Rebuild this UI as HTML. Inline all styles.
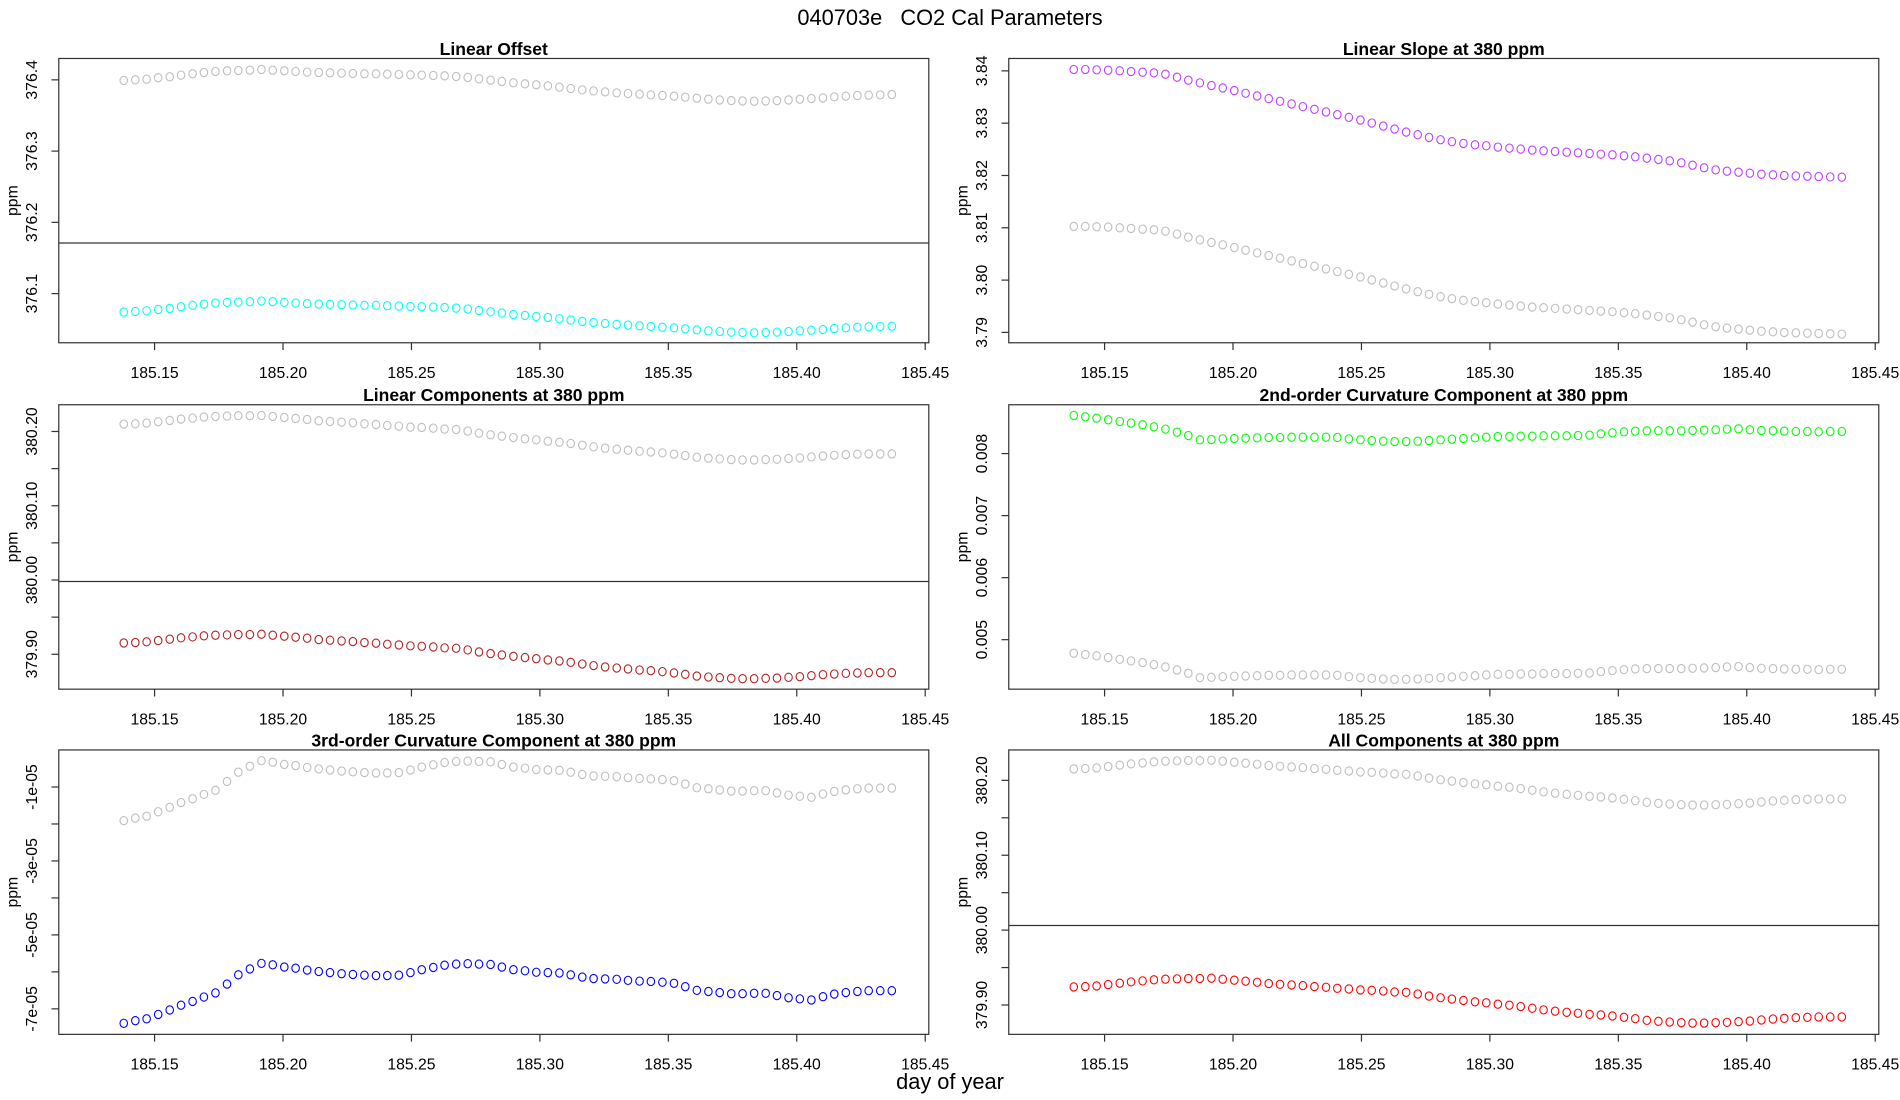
<!DOCTYPE html>
<html><head><meta charset="utf-8">
<style>
html,body{margin:0;padding:0;background:#fff;}
svg{display:block;}
text{font-family:"Liberation Sans",sans-serif;fill:#000;}
</style></head>
<body>
<svg id="chart" width="1900" height="1100" viewBox="0 0 1568 905" preserveAspectRatio="none" xmlns="http://www.w3.org/2000/svg">
<rect x="0" y="0" width="1568" height="905" fill="#fff"/>
<text x="784" y="20.5" font-size="18" text-anchor="middle" style="white-space:pre">040703e   CO2 Cal Parameters</text>
<text x="784" y="896" font-size="18" text-anchor="middle">day of year</text>
</svg>
<script>
const dayOfYear = [185.1380,185.1425,185.1469,185.1514,185.1559,185.1603,185.1648,185.1692,185.1737,185.1782,185.1826,185.1871,185.1916,185.1960,185.2005,185.2049,185.2094,185.2139,185.2183,185.2228,185.2272,185.2317,185.2362,185.2406,185.2451,185.2496,185.2540,185.2585,185.2629,185.2674,185.2719,185.2763,185.2808,185.2852,185.2897,185.2942,185.2986,185.3031,185.3076,185.3120,185.3165,185.3209,185.3254,185.3299,185.3343,185.3388,185.3432,185.3477,185.3522,185.3566,185.3611,185.3656,185.3700,185.3745,185.3789,185.3834,185.3879,185.3923,185.3968,185.4012,185.4057,185.4102,185.4146,185.4191,185.4236,185.4280,185.4325,185.4370];
const xTicks = [185.15,185.20,185.25,185.30,185.35,185.40,185.45];
const xTickLabels = ["185.15","185.20","185.25","185.30","185.35","185.40","185.45"];

const offsetGray = [376.3991,376.4000,376.4009,376.4028,376.4042,376.4066,376.4085,376.4103,376.4117,376.4127,376.4131,376.4136,376.4146,376.4136,376.4127,376.4117,376.4108,376.4103,376.4099,376.4094,376.4089,376.4085,376.4085,376.4080,376.4075,376.4070,376.4066,376.4061,376.4056,376.4047,376.4033,376.4014,376.3995,376.3977,376.3958,376.3944,376.3930,376.3915,376.3897,376.3878,376.3859,376.3845,376.3831,376.3817,376.3808,376.3798,376.3789,376.3779,376.3770,376.3756,376.3742,376.3728,376.3718,376.3709,376.3704,376.3700,376.3704,376.3709,376.3718,376.3728,376.3737,376.3746,376.3761,376.3770,376.3779,376.3784,376.3789,376.3793];
const offsetCur = [376.0741,376.0750,376.0759,376.0778,376.0792,376.0816,376.0835,376.0853,376.0867,376.0877,376.0881,376.0886,376.0896,376.0886,376.0877,376.0867,376.0858,376.0853,376.0849,376.0844,376.0839,376.0835,376.0835,376.0830,376.0825,376.0820,376.0816,376.0811,376.0806,376.0797,376.0783,376.0764,376.0745,376.0727,376.0708,376.0694,376.0680,376.0665,376.0647,376.0628,376.0609,376.0595,376.0581,376.0567,376.0558,376.0548,376.0539,376.0529,376.0520,376.0506,376.0492,376.0478,376.0468,376.0459,376.0454,376.0450,376.0454,376.0459,376.0468,376.0478,376.0487,376.0496,376.0511,376.0520,376.0529,376.0534,376.0539,376.0543];

const slopeCur = [3.84026,3.84026,3.84019,3.84013,3.84000,3.83987,3.83974,3.83962,3.83936,3.83879,3.83821,3.83770,3.83719,3.83674,3.83623,3.83572,3.83520,3.83469,3.83418,3.83367,3.83316,3.83265,3.83214,3.83162,3.83111,3.83060,3.83003,3.82945,3.82887,3.82830,3.82779,3.82728,3.82683,3.82645,3.82613,3.82587,3.82568,3.82542,3.82523,3.82504,3.82485,3.82472,3.82459,3.82446,3.82434,3.82421,3.82408,3.82395,3.82376,3.82357,3.82331,3.82306,3.82280,3.82242,3.82197,3.82146,3.82107,3.82082,3.82063,3.82043,3.82024,3.82012,3.81999,3.81992,3.81986,3.81980,3.81973,3.81967];
const slopeGray = [3.81026,3.81026,3.81019,3.81013,3.81000,3.80987,3.80974,3.80962,3.80936,3.80879,3.80821,3.80770,3.80719,3.80674,3.80623,3.80572,3.80520,3.80469,3.80418,3.80367,3.80316,3.80265,3.80214,3.80162,3.80111,3.80060,3.80003,3.79945,3.79887,3.79830,3.79779,3.79728,3.79683,3.79645,3.79613,3.79587,3.79568,3.79542,3.79523,3.79504,3.79485,3.79472,3.79459,3.79446,3.79434,3.79421,3.79408,3.79395,3.79376,3.79357,3.79331,3.79306,3.79280,3.79242,3.79197,3.79146,3.79107,3.79082,3.79063,3.79043,3.79024,3.79012,3.78999,3.78992,3.78986,3.78980,3.78973,3.78967];

const linGray = [380.2099,380.2104,380.2113,380.2131,380.2149,380.2167,380.2180,380.2194,380.2203,380.2207,380.2212,380.2212,380.2216,380.2203,380.2189,380.2176,380.2162,380.2144,380.2135,380.2126,380.2117,380.2104,380.2095,380.2081,380.2072,380.2059,380.2054,380.2045,380.2032,380.2027,380.2005,380.1977,380.1955,380.1937,380.1919,380.1901,380.1887,380.1869,380.1856,380.1838,380.1815,380.1793,380.1775,380.1761,380.1748,380.1734,380.1725,380.1712,380.1694,380.1676,380.1653,380.1640,380.1631,380.1622,380.1617,380.1617,380.1622,380.1626,380.1635,380.1644,380.1658,380.1671,380.1680,380.1689,380.1694,380.1698,380.1698,380.1698];
const linCur = [379.9153,379.9158,379.9167,379.9185,379.9203,379.9221,379.9234,379.9248,379.9257,379.9261,379.9266,379.9266,379.9270,379.9257,379.9243,379.9230,379.9216,379.9198,379.9189,379.9180,379.9171,379.9158,379.9149,379.9135,379.9126,379.9113,379.9108,379.9099,379.9086,379.9081,379.9059,379.9031,379.9009,379.8991,379.8973,379.8955,379.8941,379.8923,379.8910,379.8892,379.8869,379.8847,379.8829,379.8815,379.8802,379.8788,379.8779,379.8766,379.8748,379.8730,379.8707,379.8694,379.8685,379.8676,379.8671,379.8671,379.8676,379.8680,379.8689,379.8698,379.8712,379.8725,379.8734,379.8743,379.8748,379.8752,379.8752,379.8752];

const curv2Cur = [0.008615,0.008593,0.008572,0.008544,0.008517,0.008491,0.008464,0.008431,0.008394,0.008345,0.008291,0.008221,0.008226,0.008237,0.008243,0.008248,0.008253,0.008259,0.008259,0.008264,0.008264,0.008264,0.008264,0.008259,0.008237,0.008221,0.008210,0.008199,0.008194,0.008194,0.008199,0.008210,0.008221,0.008232,0.008243,0.008253,0.008264,0.008275,0.008275,0.008280,0.008280,0.008286,0.008286,0.008286,0.008291,0.008296,0.008318,0.008334,0.008350,0.008361,0.008367,0.008367,0.008367,0.008367,0.008372,0.008377,0.008383,0.008394,0.008399,0.008383,0.008372,0.008367,0.008361,0.008356,0.008356,0.008350,0.008356,0.008356];
const curv2Gray = [0.004782,0.004760,0.004739,0.004711,0.004684,0.004658,0.004631,0.004598,0.004561,0.004512,0.004458,0.004388,0.004393,0.004404,0.004410,0.004415,0.004420,0.004426,0.004426,0.004431,0.004431,0.004431,0.004431,0.004426,0.004404,0.004388,0.004377,0.004366,0.004361,0.004361,0.004366,0.004377,0.004388,0.004399,0.004410,0.004420,0.004431,0.004442,0.004442,0.004447,0.004447,0.004453,0.004453,0.004453,0.004458,0.004463,0.004485,0.004501,0.004517,0.004528,0.004534,0.004534,0.004534,0.004534,0.004539,0.004544,0.004550,0.004561,0.004566,0.004550,0.004539,0.004534,0.004528,0.004523,0.004523,0.004517,0.004523,0.004523];

const curv3Gray = [-1.91e-5,-1.84e-5,-1.79e-5,-1.67e-5,-1.55e-5,-1.42e-5,-1.32e-5,-1.20e-5,-1.09e-5,-0.85e-5,-0.60e-5,-0.44e-5,-0.29e-5,-0.33e-5,-0.39e-5,-0.42e-5,-0.47e-5,-0.51e-5,-0.54e-5,-0.57e-5,-0.59e-5,-0.61e-5,-0.62e-5,-0.62e-5,-0.61e-5,-0.54e-5,-0.46e-5,-0.40e-5,-0.34e-5,-0.31e-5,-0.30e-5,-0.31e-5,-0.32e-5,-0.39e-5,-0.46e-5,-0.49e-5,-0.53e-5,-0.54e-5,-0.55e-5,-0.60e-5,-0.66e-5,-0.70e-5,-0.71e-5,-0.72e-5,-0.75e-5,-0.77e-5,-0.78e-5,-0.80e-5,-0.83e-5,-0.92e-5,-1.02e-5,-1.05e-5,-1.08e-5,-1.11e-5,-1.11e-5,-1.10e-5,-1.10e-5,-1.16e-5,-1.22e-5,-1.25e-5,-1.28e-5,-1.19e-5,-1.12e-5,-1.08e-5,-1.05e-5,-1.03e-5,-1.03e-5,-1.03e-5];
const curv3Cur = [-7.39e-5,-7.32e-5,-7.27e-5,-7.15e-5,-7.03e-5,-6.90e-5,-6.80e-5,-6.68e-5,-6.57e-5,-6.33e-5,-6.08e-5,-5.92e-5,-5.77e-5,-5.81e-5,-5.87e-5,-5.90e-5,-5.95e-5,-5.99e-5,-6.02e-5,-6.05e-5,-6.07e-5,-6.09e-5,-6.10e-5,-6.10e-5,-6.09e-5,-6.02e-5,-5.94e-5,-5.88e-5,-5.82e-5,-5.79e-5,-5.78e-5,-5.79e-5,-5.80e-5,-5.87e-5,-5.94e-5,-5.97e-5,-6.01e-5,-6.02e-5,-6.03e-5,-6.08e-5,-6.14e-5,-6.18e-5,-6.19e-5,-6.20e-5,-6.23e-5,-6.25e-5,-6.26e-5,-6.28e-5,-6.31e-5,-6.40e-5,-6.50e-5,-6.53e-5,-6.56e-5,-6.59e-5,-6.59e-5,-6.58e-5,-6.58e-5,-6.64e-5,-6.70e-5,-6.73e-5,-6.76e-5,-6.67e-5,-6.60e-5,-6.56e-5,-6.53e-5,-6.51e-5,-6.51e-5,-6.51e-5];

const allGray = [380.2152,380.2157,380.2166,380.2184,380.2202,380.2220,380.2233,380.2247,380.2256,380.2260,380.2265,380.2265,380.2269,380.2256,380.2242,380.2229,380.2215,380.2197,380.2188,380.2179,380.2170,380.2157,380.2148,380.2134,380.2125,380.2112,380.2107,380.2098,380.2085,380.2080,380.2058,380.2030,380.2008,380.1990,380.1972,380.1954,380.1940,380.1922,380.1909,380.1891,380.1868,380.1846,380.1828,380.1814,380.1801,380.1787,380.1778,380.1765,380.1747,380.1729,380.1706,380.1693,380.1684,380.1675,380.1670,380.1670,380.1675,380.1679,380.1688,380.1697,380.1711,380.1724,380.1733,380.1742,380.1747,380.1751,380.1751,380.1751];
const allCur = [379.9241,379.9246,379.9255,379.9273,379.9291,379.9309,379.9322,379.9336,379.9345,379.9349,379.9354,379.9354,379.9358,379.9345,379.9331,379.9318,379.9304,379.9286,379.9277,379.9268,379.9259,379.9246,379.9237,379.9223,379.9214,379.9201,379.9196,379.9187,379.9174,379.9169,379.9147,379.9119,379.9097,379.9079,379.9061,379.9043,379.9029,379.9011,379.8998,379.8980,379.8957,379.8935,379.8917,379.8903,379.8890,379.8876,379.8867,379.8854,379.8836,379.8818,379.8795,379.8782,379.8773,379.8764,379.8759,379.8759,379.8764,379.8768,379.8777,379.8786,379.8800,379.8813,379.8822,379.8831,379.8836,379.8840,379.8840,379.8840];

const offsetTicks = [376.1,376.2,376.3,376.4];
const offsetTickLabels = ["376.1","376.2","376.3","376.4"];
const slopeTicks = [3.79,3.80,3.81,3.82,3.83,3.84];
const slopeTickLabels = ["3.79","3.80","3.81","3.82","3.83","3.84"];
const linTicks = [379.90,379.95,380.00,380.05,380.10,380.15,380.20];
const linTickLabels = ["379.90","","380.00","","380.10","","380.20"];
const curv2Ticks = [0.005,0.006,0.007,0.008];
const curv2TickLabels = ["0.005","0.006","0.007","0.008"];
const curv3Ticks = [-7e-5,-6e-5,-5e-5,-4e-5,-3e-5,-2e-5,-1e-5];
const curv3TickLabels = ["-7e-05","","-5e-05","","-3e-05","","-1e-05"];

const svg = document.getElementById('chart');
const NS = 'http://www.w3.org/2000/svg';
function mk(tag, attrs, parent) {
  const e = document.createElementNS(NS, tag);
  for (const k in attrs) e.setAttribute(k, attrs[k]);
  (parent || svg).appendChild(e);
  return e;
}
const X_DOMAIN = [185.1127, 185.4514];
const panels = [
  {key:'linear-offset', title:'Linear Offset', x0:48.5, x1:766.5, y0:48.1, y1:282, dom:[376.031,376.430], ticks:offsetTicks, labels:offsetTickLabels, hline:376.171, gray:offsetGray, cur:offsetCur, color:'#00ffff'},
  {key:'linear-slope', title:'Linear Slope at 380 ppm', x0:832.5, x1:1550.5, y0:48.1, y1:282, dom:[3.78802,3.84237], ticks:slopeTicks, labels:slopeTickLabels, hline:null, gray:slopeGray, cur:slopeCur, color:'#bf3eff'},
  {key:'linear-components', title:'Linear Components at 380 ppm', x0:48.5, x1:766.5, y0:333, y1:567, dom:[379.853,380.236], ticks:linTicks, labels:linTickLabels, hline:379.998, gray:linGray, cur:linCur, color:'#b22222'},
  {key:'curvature-2nd', title:'2nd-order Curvature Component at 380 ppm', x0:832.5, x1:1550.5, y0:333, y1:567, dom:[0.004202,0.008787], ticks:curv2Ticks, labels:curv2TickLabels, hline:null, gray:curv2Gray, cur:curv2Cur, color:'#00ff00'},
  {key:'curvature-3rd', title:'3rd-order Curvature Component at 380 ppm', x0:48.5, x1:766.5, y0:617, y1:851, dom:[-7.69e-5,0.002e-5], ticks:curv3Ticks, labels:curv3TickLabels, hline:null, gray:curv3Gray, cur:curv3Cur, color:'#0000ff'},
  {key:'all-components', title:'All Components at 380 ppm', x0:832.5, x1:1550.5, y0:617, y1:851, dom:[379.8608,380.2406], ticks:linTicks, labels:linTickLabels, hline:380.0062, gray:allGray, cur:allCur, color:'#ff0000'}
];
panels.forEach(p => {
  const g = mk('g', {});
  
  
  const xs = v => p.x0 + (v - X_DOMAIN[0]) / (X_DOMAIN[1] - X_DOMAIN[0]) * (p.x1 - p.x0);
  const ys = v => p.y1 - (v - p.dom[0]) / (p.dom[1] - p.dom[0]) * (p.y1 - p.y0);
  const t = mk('text', {x:(p.x0+p.x1)/2, y:p.y0-3, 'font-size':14.5, 'font-weight':'bold', 'text-anchor':'middle'}, g);
  t.textContent = p.title;
  
  
  const box = mk('rect', {x:p.x0, y:p.y0, width:p.x1-p.x0, height:p.y1-p.y0, fill:'none', stroke:'#333', 'stroke-width':1}, g);
  
  
  xTicks.forEach((v, i) => {
    const x = xs(v);
    mk('line', {x1:x, x2:x, y1:p.y1, y2:p.y1+6, stroke:'#333', 'stroke-width':1}, g);
    const lt = mk('text', {x:x, y:p.y1+29, 'font-size':13, 'text-anchor':'middle'}, g);
    lt.textContent = xTickLabels[i];
    
    
  });
  p.ticks.forEach((v, i) => {
    const y = ys(v);
    mk('line', {x1:p.x0-6, x2:p.x0, y1:y, y2:y, stroke:'#333', 'stroke-width':1}, g);
    if (p.labels[i]) {
      const cx = p.x0 - 18;
      const lt = mk('text', {x:cx, y:y, 'font-size':13, 'text-anchor':'middle', transform:'rotate(-90 '+cx+' '+y+')'}, g);
      lt.textContent = p.labels[i];
      
      
    }
  });
  const cy = (p.y0+p.y1)/2, px = p.x0 - 34;
  const yt = mk('text', {x:px, y:cy, 'font-size':13, 'text-anchor':'middle', transform:'rotate(-90 '+px+' '+cy+')'}, g);
  yt.textContent = 'ppm';
  
  
  if (p.hline !== null) {
    const hl = mk('line', {x1:p.x0, x2:p.x1, y1:ys(p.hline), y2:ys(p.hline), stroke:'#333', 'stroke-width':1}, g);
    
    
  }
  [[p.gray, '#bebebe', 'gray-series'], [p.cur, p.color, 'current-series']].forEach(s => {
    const sg = mk('g', {fill:'none', stroke:s[1], 'stroke-width':0.9}, g);
    
    
    s[0].forEach((v, i) => {
      const c = mk('ellipse', {cx:xs(dayOfYear[i]), cy:ys(v), rx:3.1, ry:3.4}, sg);
      
      
    });
  });
});
</script>
</body></html>
